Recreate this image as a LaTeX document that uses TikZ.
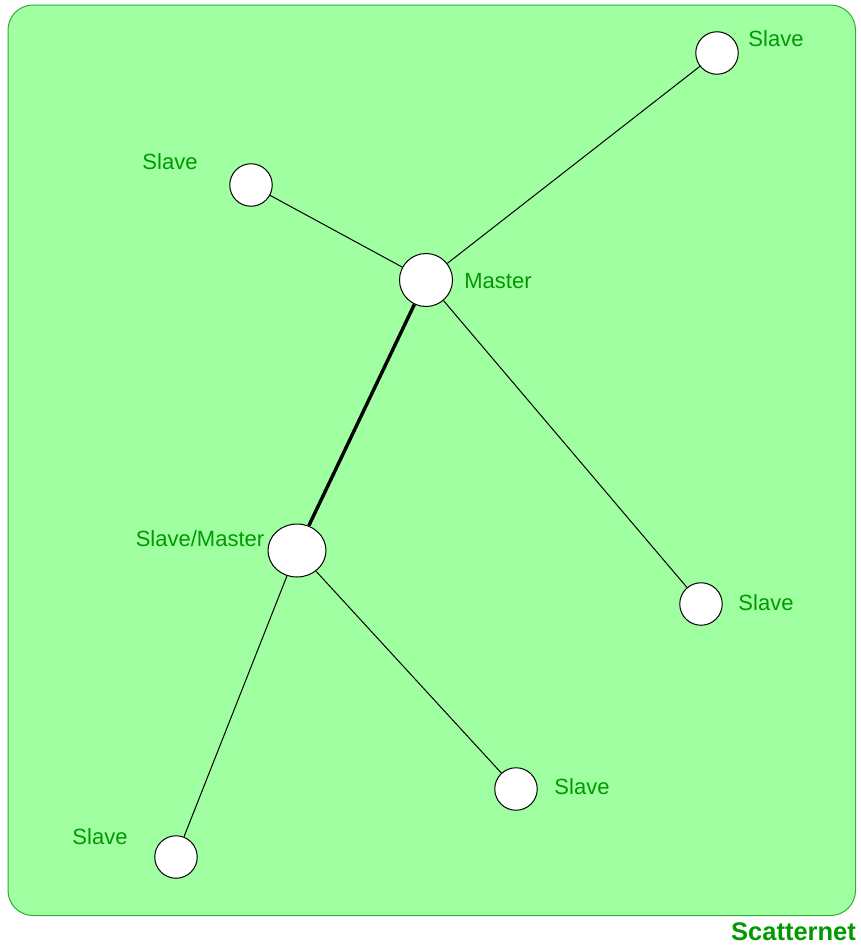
\documentclass[tikz,border=0pt]{standalone}
\usepackage{fontspec}
\setmainfont{Liberation Sans}
\usetikzlibrary{shapes.geometric}
\definecolor{bgfill}{RGB}{160,255,160}
\definecolor{bgborder}{RGB}{51,170,51}
\definecolor{labelgreen}{RGB}{0,153,0}
\begin{document}
\begin{tikzpicture}[x=1pt,y=-1pt,
  dev/.style={circle,draw=black,fill=white,line width=1pt,minimum size=#1,inner sep=0pt},
  lbl/.style={text=labelgreen,font=\fontsize{22}{24}\selectfont,anchor=base,inner sep=0pt},
  link/.style={line width=1pt,black},
  backbone/.style={line width=3.4pt,black}]
\useasboundingbox (0,0) rectangle (860,945);
\draw[fill=bgfill,draw=bgborder,line width=1pt,rounded corners=25pt] (8,5) rectangle (855.5,915.5);
\node[dev=42.5pt] (s1) at (717,53) {};
\node[dev=42.5pt] (s2) at (251,185) {};
\node[dev=53pt] (m) at (426,280) {};
\node[ellipse,draw=black,fill=white,line width=1pt,minimum width=58pt,minimum height=53pt,inner sep=0pt] (sm) at (297,550.5) {};
\node[dev=42.5pt] (s3) at (701,604) {};
\node[dev=42.5pt] (s4) at (516,789) {};
\node[dev=42.5pt] (s5) at (176,857) {};
\draw[link] (m) -- (s1);
\draw[link] (m) -- (s2);
\draw[link] (m) -- (s3);
\draw[backbone] (m) -- (sm);
\draw[link] (sm) -- (s4);
\draw[link] (sm) -- (s5);
\node[lbl] (l1) at (776,46.9) {Slave};
\node[lbl] (l2) at (170,169.9) {Slave};
\node[lbl] (l3) at (498,288.4) {Master};
\node[lbl] (l4) at (200,546.9) {Slave/Master};
\node[lbl] (l5) at (766,610.9) {Slave};
\node[lbl] (l6) at (582,794.9) {Slave};
\node[lbl] (l7) at (100,844.9) {Slave};
\node[text=labelgreen,font=\fontsize{25.5}{28}\selectfont\bfseries,anchor=base,inner sep=0pt] (sc) at (793.5,940.3) {Scatternet};
\end{tikzpicture}
\end{document}
